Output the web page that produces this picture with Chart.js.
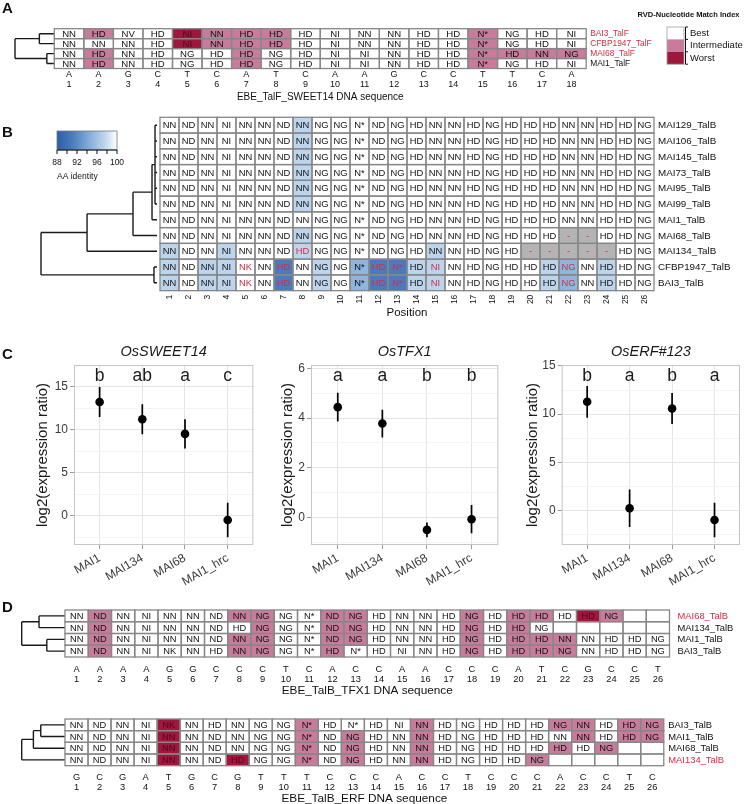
<!DOCTYPE html>
<html>
<head>
<meta charset="utf-8">
<script src="https://cdn.jsdelivr.net/npm/chart.js@4.4.1/dist/chart.umd.min.js"></script>
<style>
  body { margin: 0; background: #fff; width: 746px; height: 804px; position: relative; overflow: hidden; }
  canvas { position: absolute; }
</style>
</head>
<body>
<canvas id="panelA" width="746" height="104" style="left:0;top:0"></canvas>
<canvas id="panelB" width="746" height="226" style="left:0;top:104px"></canvas>
<canvas id="c1" width="262" height="266" style="left:0;top:330px"></canvas>
<canvas id="c2" width="250" height="266" style="left:262px;top:330px"></canvas>
<canvas id="c3" width="234" height="266" style="left:512px;top:330px"></canvas>
<canvas id="panelD1" width="746" height="100" style="left:0;top:596px"></canvas>
<canvas id="panelD2" width="746" height="108" style="left:0;top:696px"></canvas>
<script>
// ---------- data ----------
// A: TalF RVDs against EBE_TalF_SWEET14 (match: 0 best, 1 intermediate, 2 worst)
const aStrains = ['BAI3_TalF', 'CFBP1947_TalF', 'MAI68_TalF', 'MAI1_TalF'];
const aHighlight = [1, 1, 1, 0];
const aRvd = [
  'NN HD NV HD NI NN HD HD HD NI NN NN HD HD N* NG HD NI',
  'NN NN NN HD NI NN HD HD HD NI NN NN HD HD N* NG HD NI',
  'NN HD NN HD NG HD HD NG HD NI NI NN HD HD N* HD NN NG',
  'NN HD NN HD NG HD HD NG HD NI NI NN HD HD N* NG HD NI'
];
const aMatch = ['010021110000001000', '000021110000001000', '010000100000001111', '010000100000001000'];
const aEbe = 'AAGCTCATCAAGCCTTCA';
const aTree = { d: 0, c: [{ d: 0.62, c: [1, 2] }, { d: 0.81, c: [3, 4] }] };
const matchNames = ['Best', 'Intermediate', 'Worst'];

// B: TalB RVDs, shaded by AA identity ('.' 100, l 97.5, m 95, d 91, '-' gap)
const bStrains = ['MAI129_TalB', 'MAI106_TalB', 'MAI145_TalB', 'MAI73_TalB', 'MAI95_TalB', 'MAI99_TalB',
  'MAI1_TalB', 'MAI68_TalB', 'MAI134_TalB', 'CFBP1947_TalB', 'BAI3_TalB'];
const bRvd = [
  'NN ND NN NI NN NN ND NN NG NG N* ND NG HD NN NN HD NG HD HD HD NN NN HD HD NG',
  'NN ND NN NI NN NN ND NN NG NG N* ND NG HD NN NN HD NG HD HD HD NN NN HD HD NG',
  'NN ND NN NI NN NN ND NN NG NG N* ND NG HD NN NN HD NG HD HD HD NN NN HD HD NG',
  'NN ND NN NI NN NN ND NN NG NG N* ND NG HD NN NN HD NG HD HD HD NN NN HD HD NG',
  'NN ND NN NI NN NN ND NN NG NG N* ND NG HD NN NN HD NG HD HD HD NN NN HD HD NG',
  'NN ND NN NI NN NN ND NN NG NG N* ND NG HD NN NN HD NG HD HD HD NN NN HD HD NG',
  'NN ND NN NI NN NN ND NN NG NG N* ND NG HD NN NN HD NG HD HD HD NN NN HD HD NG',
  'NN ND NN NI NN NN ND NN NG NG N* ND NG HD NN NN HD NG HD HD HD - - HD HD NG',
  'NN ND NN NI NN NN ND HD NG NG N* ND NG HD NN NN HD NG HD - - - - - HD NG',
  'NN ND NN NI NK NN HD NN NG NG N* HD N* HD NI NN HD NG HD HD HD NG NN HD HD NG',
  'NN ND NN NI NK NN HD NN NG NG N* HD N* HD NI NN HD NG HD HD HD NG NN HD HD NG'
];
const bShade = [
  '.......l..................', '.......l..................', '.......l..................',
  '.......l..................', '.......l..................', '.......l..................',
  '..........................', '.......l.............--...', 'l..l...l......l....-----..',
  'l.ll..d.l.mddll.....lm.l..', 'l.ll..d.l.mddll.....lm.l..'
];
const shadeIdentity = { '.': 100, l: 97.5, m: 95, d: 91 };
const bTree = { d: 0, c: [
  { d: 0.397, c: [{ d: 0.793, c: [{ d: 0.957, c: [{ d: 0.983, c: [1, 2, 3, 4, 5, 6] }, 7] }, 8] }, 9] },
  { d: 0.974, c: [10, 11] }] };
const idRange = [88, 100];
const idTicks = [88, 92, 96, 100];

// C: expression of target genes
const cGroups = ['MAI1', 'MAI134', 'MAI68', 'MAI1_hrc'];
const sweetMean = [13.2, 11.2, 9.5, -0.5];
const sweetSd = [1.75, 1.75, 1.7, 2.0];
const sweetLetters = ['b', 'ab', 'a', 'c'];
const tfxMean = [4.44, 3.78, -0.51, -0.08];
const tfxSd = [0.58, 0.56, 0.3, 0.57];
const tfxLetters = ['a', 'a', 'b', 'b'];
const erfMean = [11.28, 0.21, 10.58, -1.0];
const erfSd = [1.65, 1.95, 1.6, 1.8];
const erfLetters = ['b', 'a', 'b', 'a'];

// D: TalB RVDs against EBE_TalB_TFX1 and EBE_TalB_ERF ('.' = no repeat)
const d1Strains = ['MAI68_TalB', 'MAI134_TalB', 'MAI1_TalB', 'BAI3_TalB'];
const d1Highlight = [1, 0, 0, 0];
const d1Rvd = [
  'NN ND NN NI NN NN ND NN NG NG N* ND NG HD NN NN HD NG HD HD HD HD HD NG . .',
  'NN ND NN NI NN NN ND HD NG NG N* ND NG HD NN NN HD NG HD HD NG . . . . .',
  'NN ND NN NI NN NN ND NN NG NG N* ND NG HD NN NN HD NG HD HD HD NN NN HD HD NG',
  'NN ND NN NI NK NN HD NN NG NG N* HD N* HD NI NN HD NG HD HD HD NG NN HD HD NG'
];
const d1Match = ['01000001100110000101102100', '01000000100110000101000000',
  '01000001100110000101110000', '01000001100100000101110000'];
const d1Ebe = 'AAAAGGCCCTCACCAACCCATCGCCT';
const d1Tree = { d: 0, c: [{ d: 0.40, c: [1, 2] }, { d: 0.58, c: [3, 4] }] };

const d2Strains = ['BAI3_TalB', 'MAI1_TalB', 'MAI68_TalB', 'MAI134_TalB'];
const d2Highlight = [0, 0, 0, 1];
const d2Rvd = [
  'NN ND NN NI NK NN HD NN NG NG N* HD N* HD NI NN HD NG HD HD HD NG NN HD HD NG',
  'NN ND NN NI NN NN ND NN NG NG N* ND NG HD NN NN HD NG HD HD HD NN NN HD HD NG',
  'NN ND NN NI NN NN ND NN NG NG N* ND NG HD NN NN HD NG HD HD HD HD HD NG . .',
  'NN ND NN NI NN NN ND HD NG NG N* ND NG HD NN NN HD NG HD HD NG . . . . .'
];
const d2Match = ['00002000001000010000011011', '00002000001010010000001011',
  '00002000001010010000010100', '00002002001010010000100000'];
const d2Ebe = 'GCGATGCGTTTCCCACCTCCCACCTC';
const d2Tree = { d: 0, c: [{ d: 0.27, c: [{ d: 0.44, c: [1, 2] }, 3] }, 4] };

// ---------- styling ----------
const FONT = '"Liberation Sans", Arial, Helvetica, sans-serif';
Chart.defaults.font.family = FONT;
Chart.defaults.color = '#111';
const matchColors = ['#ffffff', '#c97b9b', '#a0163d'];
const RED = '#d62d45';
const GAP = '#b4b4b4';
const idStops = [[88, [44, 94, 166]], [91, [74, 123, 189]], [95, [143, 180, 222]], [97.5, [189, 213, 236]], [100, [255, 255, 255]]];

function identityColor(v) {
  for (let i = 1; i < idStops.length; i++) {
    const [v0, c0] = idStops[i - 1], [v1, c1] = idStops[i];
    if (v <= v1) {
      const t = (v - v0) / (v1 - v0);
      return 'rgb(' + c0.map((c, k) => Math.round(c + t * (c1[k] - c))).join(',') + ')';
    }
  }
  return '#ffffff';
}

// turn a nested tree into line segments (x = depth, y = row)
function layoutTree(node, pts) {
  if (typeof node === 'number') return { y: node, d: 1 };
  const kids = node.c.map(k => layoutTree(k, pts));
  const ys = kids.map(k => k.y);
  pts.push({ x: node.d, y: Math.min(...ys) }, { x: node.d, y: Math.max(...ys) }, { x: null, y: null });
  kids.forEach(k => pts.push({ x: node.d, y: k.y }, { x: k.d, y: k.y }, { x: null, y: null }));
  return { y: ys.reduce((a, b) => a + b, 0) / ys.length, d: node.d };
}

function drawCells(chart, s, g) {
  const ctx = chart.ctx, xs = chart.scales.x, ys = chart.scales.y;
  const X = v => xs.getPixelForValue(v), Y = v => ys.getPixelForValue(v);
  const nRow = s.rvd.length, nCol = s.rvd[0].length;
  ctx.save();
  for (let r = 0; r < nRow; r++) for (let c = 0; c < nCol; c++) {
    ctx.fillStyle = s.fill(r, c);
    ctx.fillRect(X(c + 0.5), Y(r + 0.5), X(c + 1.5) - X(c + 0.5), Y(r + 1.5) - Y(r + 0.5));
  }
  ctx.strokeStyle = '#878787';
  ctx.lineWidth = 1.3;
  for (let r = 0; r < nRow; r++) for (let c = 0; c < nCol; c++) {
    ctx.strokeRect(X(c + 0.5), Y(r + 0.5), X(c + 1.5) - X(c + 0.5), Y(r + 1.5) - Y(r + 0.5));
  }
  ctx.font = g.cellFont + 'px ' + FONT;
  ctx.textAlign = 'center';
  ctx.textBaseline = 'middle';
  for (let r = 0; r < nRow; r++) for (let c = 0; c < nCol; c++) {
    const t = s.rvd[r][c];
    if (t === '.') continue;
    ctx.fillStyle = s.ink(r, c);
    ctx.fillText(t, X(c + 1), Y(r + 1) + 0.5);
  }
  // strain names
  ctx.textAlign = 'left';
  ctx.font = g.labelFont + 'px ' + FONT;
  s.labels.forEach((lab, r) => {
    ctx.fillStyle = s.labelRed[r] ? RED : '#111';
    ctx.fillText(lab, X(nCol + 0.5) + g.gap, Y(r + 1) + 0.5);
  });
  // position axis
  const bottom = Y(nRow + 0.5);
  ctx.fillStyle = '#111';
  ctx.font = g.tickFont + 'px ' + FONT;
  if (s.ebe) {
    ctx.textAlign = 'center';
    for (let c = 0; c < nCol; c++) {
      ctx.fillText(s.ebe[c], X(c + 1), bottom + g.letterOff);
      ctx.fillText(String(c + 1), X(c + 1), bottom + g.numOff);
    }
  } else {
    ctx.textAlign = 'right';
    for (let c = 0; c < nCol; c++) {
      ctx.save();
      ctx.translate(X(c + 1), bottom + g.numOff);
      ctx.rotate(-Math.PI / 2);
      ctx.fillText(String(c + 1), 0, 0);
      ctx.restore();
    }
  }
  ctx.textAlign = 'center';
  ctx.font = g.titleFont + 'px ' + FONT;
  ctx.fillText(s.title, (X(0.5) + X(nCol + 0.5)) / 2, bottom + g.titleOff);
  if (s.tag) {
    ctx.textAlign = 'left';
    ctx.font = 'bold 15px ' + FONT;
    ctx.fillText(s.tag, 2, g.tagY);
  }
  if (s.extra) s.extra(ctx);
  ctx.restore();
}

function gridChart(id, s, g) {
  const canvas = document.getElementById(id);
  const W = canvas.width, H = canvas.height;
  const pts = [];
  layoutTree(s.tree, pts);
  return new Chart(canvas, {
    type: 'scatter',
    data: { datasets: [{ data: pts, xAxisID: 'xt', yAxisID: 'y', showLine: true, pointRadius: 0,
      borderColor: '#1a1a1a', borderWidth: 1.4, tension: 0, clip: false }] },
    options: {
      responsive: false, animation: false, events: [],
      layout: { padding: 0 },
      plugins: { legend: { display: false }, tooltip: { enabled: false } },
      scales: {
        x: { type: 'linear', display: false, min: 0.5 - g.left / g.cellW, max: 0.5 + (W - g.left) / g.cellW },
        y: { type: 'linear', display: false, reverse: true, min: 0.5 - g.top / g.cellH, max: 0.5 + (H - g.top) / g.cellH },
        xt: { type: 'linear', display: false, min: -g.root / (g.tip - g.root), max: (W - g.root) / (g.tip - g.root) }
      }
    },
    plugins: [{ id: 'cells', afterDatasetsDraw(chart) { drawCells(chart, s, g); } }]
  });
}

function matchSpec(rvd, match) {
  return {
    rvd: rvd.map(r => r.split(' ')),
    fill: (r, c) => matchColors[+match[r][c]],
    ink: (r, c) => match[r][c] === '2' ? '#4e0719' : '#111'
  };
}

// ---------- panel A ----------
gridChart('panelA', Object.assign(matchSpec(aRvd, aMatch), {
  labels: aStrains, labelRed: aHighlight, ebe: aEbe, tree: aTree, tag: 'A',
  title: 'EBE_TalF_SWEET14 DNA sequence',
  extra(ctx) {
    const x0 = 667, x1 = 684, y0 = 27, h = 12.4;
    ctx.fillStyle = '#111';
    ctx.textAlign = 'center';
    ctx.font = 'bold 7.5px ' + FONT;
    ctx.fillText('RVD-Nucleotide Match Index', 688.5, 15);
    matchNames.forEach((nm, i) => {
      ctx.fillStyle = matchColors[i];
      ctx.fillRect(x0, y0 + i * h, x1 - x0, h);
    });
    ctx.strokeStyle = '#a0a0a0';
    ctx.lineWidth = 0.8;
    ctx.strokeRect(x0, y0, x1 - x0, 3 * h);
    ctx.strokeStyle = '#111';
    ctx.lineWidth = 1;
    ctx.beginPath();
    ctx.moveTo(x1 + 1.5, y0);
    ctx.lineTo(x1 + 1.5, y0 + 3 * h);
    for (let i = 0; i <= 3; i++) { ctx.moveTo(x1 + 1.5, y0 + i * h); ctx.lineTo(x1 + 4, y0 + i * h); }
    ctx.stroke();
    ctx.fillStyle = '#111';
    ctx.textAlign = 'left';
    ctx.font = '9.5px ' + FONT;
    matchNames.forEach((nm, i) => ctx.fillText(nm, 690, y0 + (i + 0.5) * h));
  }
}), { left: 54.3, top: 28.7, cellW: 29.55, cellH: 9.95, root: 15, tip: 54.3, cellFont: 9.6, labelFont: 8.4,
  tickFont: 9, gap: 4, letterOff: 6, numOff: 16, titleOff: 28.5, titleFont: 10, tagY: 9 });

// ---------- panel B ----------
const bSplit = bRvd.map(r => r.split(' '));
gridChart('panelB', {
  rvd: bSplit,
  fill: (r, c) => bShade[r][c] === '-' ? GAP : identityColor(shadeIdentity[bShade[r][c]]),
  ink: (r, c) => bSplit[r][c] !== bSplit[0][c] ? RED : '#111',
  labels: bStrains, labelRed: bStrains.map(() => 0), tree: bTree, tag: 'B', title: 'Position',
  extra(ctx) {
    const x0 = 57, x1 = 117, y0 = 27, y1 = 46;
    const pos = v => x0 + (v - idRange[0]) / (idRange[1] - idRange[0]) * (x1 - x0);
    const grad = ctx.createLinearGradient(x0, 0, x1, 0);
    idStops.forEach(([v, c]) => grad.addColorStop((v - idRange[0]) / (idRange[1] - idRange[0]), 'rgb(' + c.join(',') + ')'));
    ctx.fillStyle = grad;
    ctx.fillRect(x0, y0, x1 - x0, y1 - y0);
    ctx.strokeStyle = '#777';
    ctx.lineWidth = 0.8;
    ctx.strokeRect(x0, y0, x1 - x0, y1 - y0);
    ctx.strokeStyle = '#111';
    ctx.lineWidth = 1;
    ctx.beginPath();
    ctx.moveTo(x0, y1); ctx.lineTo(x1, y1);
    for (let v = idRange[0]; v <= idRange[1]; v += 2) { ctx.moveTo(pos(v), y1); ctx.lineTo(pos(v), y1 + 4); }
    ctx.stroke();
    ctx.fillStyle = '#111';
    ctx.textAlign = 'center';
    ctx.font = '8.5px ' + FONT;
    idTicks.forEach(v => ctx.fillText(String(v), pos(v), y1 + 13));
    ctx.textAlign = 'left';
    ctx.fillText('AA identity', x0, y1 + 27);
  }
}, { left: 160, top: 13.3, cellW: 19, cellH: 15.76, root: 41, tip: 157, cellFont: 9.4, labelFont: 9.8,
  tickFont: 8.5, gap: 4, numOff: 4, titleOff: 22.3, titleFont: 11.5, tagY: 29 });

// ---------- panel C ----------
function exprChart(id, gene, mean, sd, letters, lay) {
  const canvas = document.getElementById(id);
  const pts = mean.map((m, i) => ({ x: i + 1, y: m }));
  const bars = [];
  mean.forEach((m, i) => bars.push({ x: i + 1, y: m - sd[i] }, { x: i + 1, y: m + sd[i] }, { x: null, y: null }));
  const isMajor = v => Math.abs(v / (2 * lay.step) - Math.round(v / (2 * lay.step))) < 1e-6;
  return new Chart(canvas, {
    type: 'scatter',
    data: { datasets: [
      { data: pts, pointRadius: 4.3, backgroundColor: '#000', borderColor: '#000', borderWidth: 0 },
      { data: bars, showLine: true, pointRadius: 0, borderColor: '#000', borderWidth: 1.7 }
    ] },
    options: {
      responsive: false, animation: false, events: [],
      layout: { padding: { top: 35, right: lay.padRight, left: 0, bottom: 0 } },
      plugins: { legend: { display: false }, tooltip: { enabled: false } },
      scales: {
        x: {
          type: 'linear', min: 0.4, max: 4.6,
          afterBuildTicks: sc => { sc.ticks = cGroups.map((gname, i) => ({ value: i + 1 })); },
          afterFit: sc => { sc.height = 51; },
          ticks: { callback: v => cGroups[v - 1], autoSkip: false, minRotation: 30, maxRotation: 30,
            font: { size: 12 }, color: '#3a3a3a', padding: 2 },
          grid: { color: '#e4e4e4', tickColor: '#9a9a9a', tickLength: 4 },
          border: { display: false }
        },
        y: {
          type: 'linear', min: lay.min, max: lay.max,
          afterBuildTicks: sc => {
            const t = [];
            for (let k = Math.ceil(lay.min / lay.step); k * lay.step < lay.max - 0.05; k++) t.push({ value: +(k * lay.step).toFixed(3) });
            sc.ticks = t;
          },
          afterFit: sc => { sc.width = lay.yWidth; },
          ticks: { callback: v => isMajor(v) ? String(v) : '', font: { size: 12 }, color: '#3a3a3a', padding: 2 },
          grid: {
            color: c => isMajor(c.tick.value) ? '#e4e4e4' : '#f3f3f3',
            tickColor: c => isMajor(c.tick.value) ? '#9a9a9a' : 'rgba(0,0,0,0)',
            tickLength: 4
          },
          border: { display: false },
          title: { display: true, text: 'log2(expression ratio)', font: { size: 15 }, color: '#1a1a1a',
            padding: { top: lay.titlePad, bottom: 0 } }
        }
      }
    },
    plugins: [{
      id: 'decor',
      afterDraw(chart) {
        const ctx = chart.ctx, a = chart.chartArea, xs = chart.scales.x;
        ctx.save();
        ctx.strokeStyle = '#c6c6c6';
        ctx.lineWidth = 1;
        ctx.strokeRect(a.left + 0.5, a.top + 0.5, a.right - a.left - 1, a.bottom - a.top - 1);
        ctx.fillStyle = '#1a1a1a';
        ctx.textAlign = 'center';
        ctx.textBaseline = 'middle';
        ctx.font = 'italic 14.5px ' + FONT;
        ctx.fillText(gene, (a.left + a.right) / 2, a.top - 13);
        ctx.textBaseline = 'alphabetic';
        ctx.font = '17.5px ' + FONT;
        letters.forEach((l, i) => ctx.fillText(l, xs.getPixelForValue(i + 1), a.top + 15.5));
        if (lay.tag) {
          ctx.textAlign = 'left';
          ctx.textBaseline = 'middle';
          ctx.font = 'bold 15px ' + FONT;
          ctx.fillStyle = '#111';
          ctx.fillText(lay.tag, 2, 25);
        }
        ctx.restore();
      }
    }]
  });
}

exprChart('c1', 'OsSWEET14', sweetMean, sweetSd, sweetLetters,
  { min: -3.4, max: 17.5, step: 2.5, yWidth: 74, titlePad: 34, padRight: 8.7, tag: 'C' });
exprChart('c2', 'OsTFX1', tfxMean, tfxSd, tfxLetters,
  { min: -1.12, max: 6.14, step: 1, yWidth: 49, titlePad: 17, padRight: 13.7 });
exprChart('c3', 'OsERF#123', erfMean, erfSd, erfLetters,
  { min: -3.6, max: 15.1, step: 2.5, yWidth: 49.7, titlePad: 12.3, padRight: 6 });

// ---------- panel D ----------
gridChart('panelD1', Object.assign(matchSpec(d1Rvd, d1Match), {
  labels: d1Strains, labelRed: d1Highlight, ebe: d1Ebe, tree: d1Tree, tag: 'D',
  title: 'EBE_TalB_TFX1 DNA sequence'
}), { left: 65, top: 14, cellW: 23.25, cellH: 11.75, root: 21.7, tip: 65, cellFont: 9.3, labelFont: 9.4,
  tickFont: 9.3, gap: 8, letterOff: 12.5, numOff: 22.5, titleOff: 33.5, titleFont: 11.8, tagY: 12 });

gridChart('panelD2', Object.assign(matchSpec(d2Rvd, d2Match), {
  labels: d2Strains, labelRed: d2Highlight, ebe: d2Ebe, tree: d2Tree,
  title: 'EBE_TalB_ERF DNA sequence'
}), { left: 65, top: 23, cellW: 23.03, cellH: 11.67, root: 21.7, tip: 65, cellFont: 9.3, labelFont: 9.4,
  tickFont: 9.3, gap: 4.5, letterOff: 12, numOff: 22, titleOff: 32.8, titleFont: 11.8 });
</script>
</body>
</html>
